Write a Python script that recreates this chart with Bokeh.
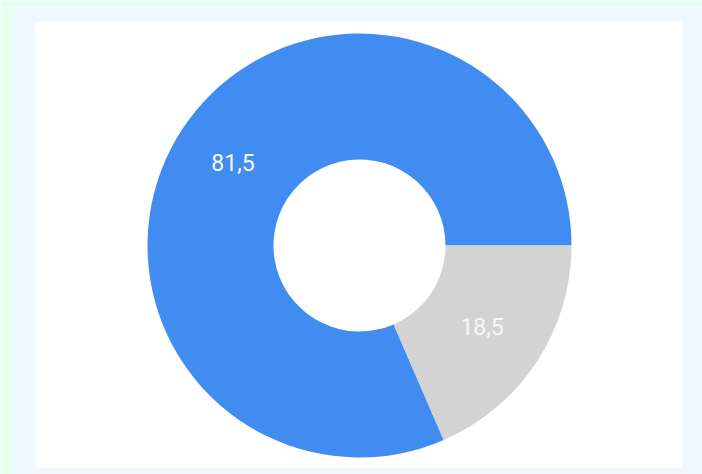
import math
from bokeh.plotting import figure
from bokeh.models import ColumnDataSource, Range1d
from bokeh.core.properties import value
from bokeh.embed import file_html
from bokeh.resources import INLINE

labels = ["81,5", "18,5"]
values = [81.5, 18.5]
colors = ["#418cf0", "#d3d3d3"]

W, H = 702, 474
p = figure(width=W, height=H, output_backend="svg", toolbar_location=None,
           x_range=Range1d(0, W), y_range=Range1d(0, H), min_border=0)
p.axis.visible = False
p.grid.visible = False
p.outline_line_color = None
p.background_fill_color = "#e8fff0"
p.border_fill_color = "#e8fff0"

# panels
p.quad(left=[13], right=[W], bottom=[0], top=[H - 7], fill_color="#f0f8ff", line_color=None)
p.quad(left=[35], right=[682], bottom=[H - 467], top=[H - 21], fill_color="#ffffff", line_color=None)

cx, cy = 359, H - 245
r_in, r_out = 86, 212
total = sum(values)
starts, ends, lx, ly = [], [], [], []
a = 0.0
for v in values:
    s = a
    e = a + v / total * 2 * math.pi
    starts.append(s)
    ends.append(e)
    m = (s + e) / 2
    rm = (r_in + r_out) / 2
    lx.append(cx + rm * math.cos(m))
    ly.append(cy + rm * math.sin(m))
    a = e

src = ColumnDataSource(dict(start=starts, end=ends, color=colors, lx=lx, ly=ly, label=labels))
p.annular_wedge(x=cx, y=cy, inner_radius=r_in, outer_radius=r_out,
                start_angle="start", end_angle="end", fill_color="color",
                line_color=None, source=src)
p.text(x="lx", y="ly", text="label", source=src, text_color="#f8f8f8",
       text_font=value("Roboto"), text_font_size="23px",
       text_align="center", text_baseline="middle", x_offset=-2, y_offset=-1)

open("out.html", "w").write(file_html(p, INLINE))
